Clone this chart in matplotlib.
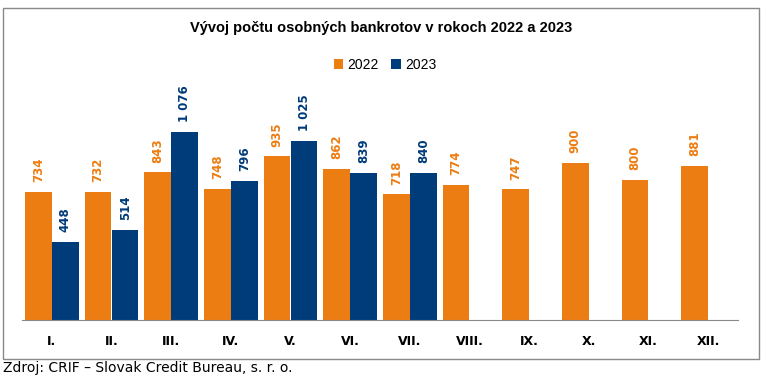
import numpy as np
import matplotlib.pyplot as plt
from matplotlib.patches import Rectangle

months = ['I.', 'II.', 'III.', 'IV.', 'V.', 'VI.', 'VII.', 'VIII.', 'IX.', 'X.', 'XI.', 'XII.']
v2022 = [734, 732, 843, 748, 935, 862, 718, 774, 747, 900, 800, 881]
v2023 = [448, 514, 1076, 796, 1025, 839, 840]

orange = '#EC7D12'
blue = '#003B7A'

fig = plt.figure(figsize=(7.62, 3.77), dpi=100)
ax = fig.add_axes([22 / 762, (377 - 320) / 377, (738 - 22) / 762, (320 - 75) / 377])

x = np.arange(len(months))
w = 0.445
b1 = ax.bar(x - w / 2 - 0.005, v2022, w, color=orange, label='2022')
b2 = ax.bar(x[:len(v2023)] + w / 2 + 0.005, v2023, w, color=blue, label='2023')


def fmt(v):
    return f'{v:,}'.replace(',', ' ')


for bars, vals, c in [(b1, v2022, orange), (b2, v2023, blue)]:
    for r, v in zip(bars, vals):
        ax.annotate(fmt(v), (r.get_x() + r.get_width() / 2, v), xytext=(0, 7),
                    textcoords='offset points', rotation=90, ha='center', va='bottom',
                    color=c, fontsize=8.5, fontweight='bold', family='DejaVu Sans')

ax.set_xlim(-0.5, len(months) - 0.5)
ax.set_ylim(0, 1400)
ax.set_xticks(x)
ax.set_xticklabels(months, fontsize=9, fontweight='bold', family='DejaVu Sans')
ax.tick_params(axis='x', length=0, pad=11)
ax.set_yticks([])
for s in ['top', 'right', 'left']:
    ax.spines[s].set_visible(False)
ax.spines['bottom'].set_color('#898989')

fig.text(381 / 762, 1 - 28 / 377, 'Vývoj počtu osobných bankrotov v rokoch 2022 a 2023',
         ha='center', va='center', fontsize=10.5, fontweight='bold', family='Liberation Sans')
fig.legend(loc='center', bbox_to_anchor=(385 / 762, 1 - 65 / 377), ncol=2, frameon=False,
           prop={'family': 'Liberation Sans', 'size': 10}, handlelength=0.7, handleheight=0.7,
           handletextpad=0.3, columnspacing=0.9)

fig.patches.append(Rectangle((3 / 762, 1 - 359 / 377), 756 / 762, 351 / 377,
                             transform=fig.transFigure, fill=False, edgecolor='#898989', lw=1))
fig.text(3 / 762, 1 - 368 / 377, 'Zdroj: CRIF – Slovak Credit Bureau, s. r. o.',
         ha='left', va='center', fontsize=10, family='DejaVu Sans')

fig.savefig('out.png', dpi=100)
